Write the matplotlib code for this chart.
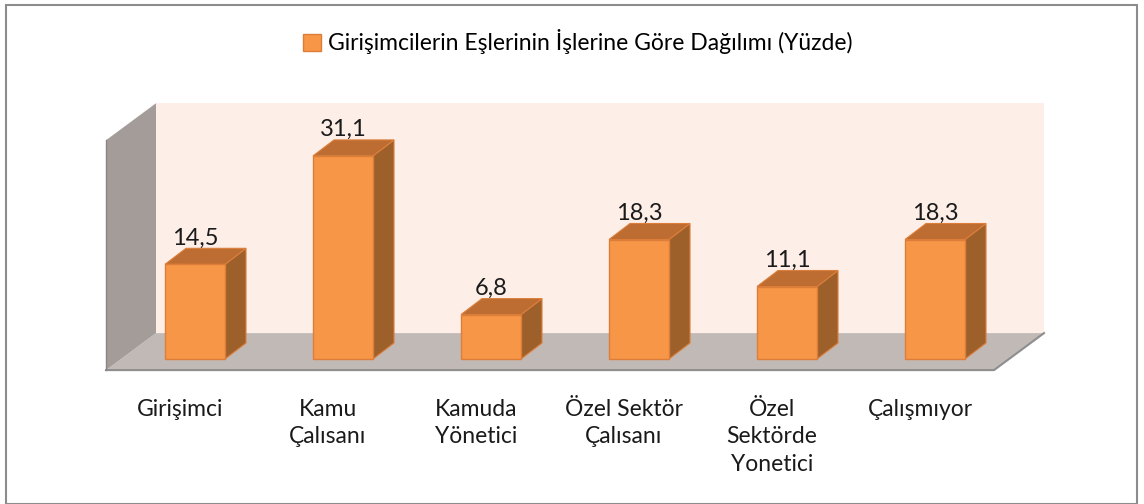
import matplotlib.pyplot as plt
from matplotlib.patches import Polygon, Rectangle

# --- Data ---
categories = ["Girişimci", "Kamu\nÇalısanı", "Kamuda\nYönetici",
              "Özel Sektör\nÇalısanı", "Özel\nSektörde\nYonetici", "Çalışmıyor"]
values = [14.5, 31.1, 6.8, 18.3, 11.1, 18.3]
value_labels = ["14,5", "31,1", "6,8", "18,3", "11,1", "18,3"]
series_name = "Girişimcilerin Eşlerinin İşlerine Göre Dağılımı (Yüzde)"
y_max = 35.2

# --- Layout constants (pixels of the 1144x504 picture) ---
W_PX, H_PX = 1144, 504
PX_CAT = 148.0     # pixels per category step
PX_VAL = 6.53      # pixels per value unit
X0_PX = 195.0      # centre of first bar front face
Y0_PX = 359.0      # row of value 0 at bar front

DEPTH_X = 50 / PX_CAT      # full floor depth, in data units
DEPTH_Y = 37 / PX_VAL
FRONT_GAP = 0.30           # fraction of depth in front of the bars
BAR_W = 60 / PX_CAT
BAR_DX = 21 / PX_CAT
BAR_DY = 16 / PX_VAL

FRONT = "#F79646"
EDGE = "#DC7E3A"
SIDE = "#9E602B"
TOP = "#BD6C32"
BACKWALL = "#FDEEE8"
FLOOR = "#C1B9B6"
LEFTWALL = "#A49C99"
LINE = "#8E8E8E"
FONT = ["Lato", "DejaVu Sans"]

fig = plt.figure(figsize=(W_PX / 100, H_PX / 100), dpi=100)
ax = fig.add_axes([0, 0, 1, 1])
ax.set_xlim(-X0_PX / PX_CAT, (W_PX - X0_PX) / PX_CAT)
ax.set_ylim(-(H_PX - Y0_PX) / PX_VAL, Y0_PX / PX_VAL)
ax.axis("off")

# --- Walls and floor ---
n = len(values)
fy = -FRONT_GAP * DEPTH_Y          # floor front edge
fx = -FRONT_GAP * DEPTH_X
by, bx = fy + DEPTH_Y, fx + DEPTH_X
xl, xr = -0.5, n - 0.5

ax.add_patch(Polygon([(xl + bx, by), (xr + bx, by), (xr + bx, by + y_max), (xl + bx, by + y_max)],
                     closed=True, fc=BACKWALL, ec="none", zorder=1))
ax.add_patch(Polygon([(xl + fx, fy), (xr + fx, fy), (xr + bx, by), (xl + bx, by)],
                     closed=True, fc=FLOOR, ec="none", zorder=1))
ax.plot([xl + fx, xr + fx, xr + bx], [fy, fy, by], color=LINE, lw=1.5, zorder=2)
ax.add_patch(Polygon([(xl + fx, fy), (xl + fx, fy + y_max), (xl + bx, by + y_max), (xl + bx, by)],
                     closed=True, fc=LEFTWALL, ec="none", zorder=2))
ax.plot([xl + fx, xl + fx], [fy, fy + y_max], color="#8A8482", lw=1, zorder=2)

# --- Bars ---
xs = list(range(n))
bars = ax.bar(xs, values, width=BAR_W, color=FRONT, edgecolor=EDGE, lw=1, zorder=4,
              label=series_name)
for x, v, lab in zip(xs, values, value_labels):
    r, l = x + BAR_W / 2, x - BAR_W / 2
    ax.add_patch(Polygon([(r, 0), (r + BAR_DX, BAR_DY), (r + BAR_DX, v + BAR_DY), (r, v)],
                         closed=True, fc=SIDE, ec=EDGE, lw=0.8, zorder=3))
    ax.add_patch(Polygon([(l, v), (r, v), (r + BAR_DX, v + BAR_DY), (l + BAR_DX, v + BAR_DY)],
                         closed=True, fc=TOP, ec=EDGE, lw=0.8, zorder=3))
    ax.text(x, v + BAR_DY + 0.6, lab, ha="center", va="baseline", fontsize=17,
            family=FONT, color="#1a1a1a", zorder=5)

# --- Category labels ---
for x, c in zip(xs, categories):
    ax.text(x + fx, fy - 4.4, c, ha="center", va="top", fontsize=16.5, family=FONT,
            color="#1a1a1a", linespacing=1.38, zorder=5)

# --- Legend ---
fig.legend(handles=[bars], loc="center", bbox_to_anchor=(0.505, 0.917), frameon=False,
           prop={"family": FONT, "size": 16.5}, handlelength=0.75, handleheight=0.75,
           handletextpad=0.3)

# --- Frame ---
fig.patches.append(Rectangle((6 / W_PX, 0), 1131 / W_PX, 1 - 5 / H_PX, transform=fig.transFigure,
                             fill=False, ec="#8C8C8C", lw=1.5))

fig.savefig("out.png", dpi=100)
